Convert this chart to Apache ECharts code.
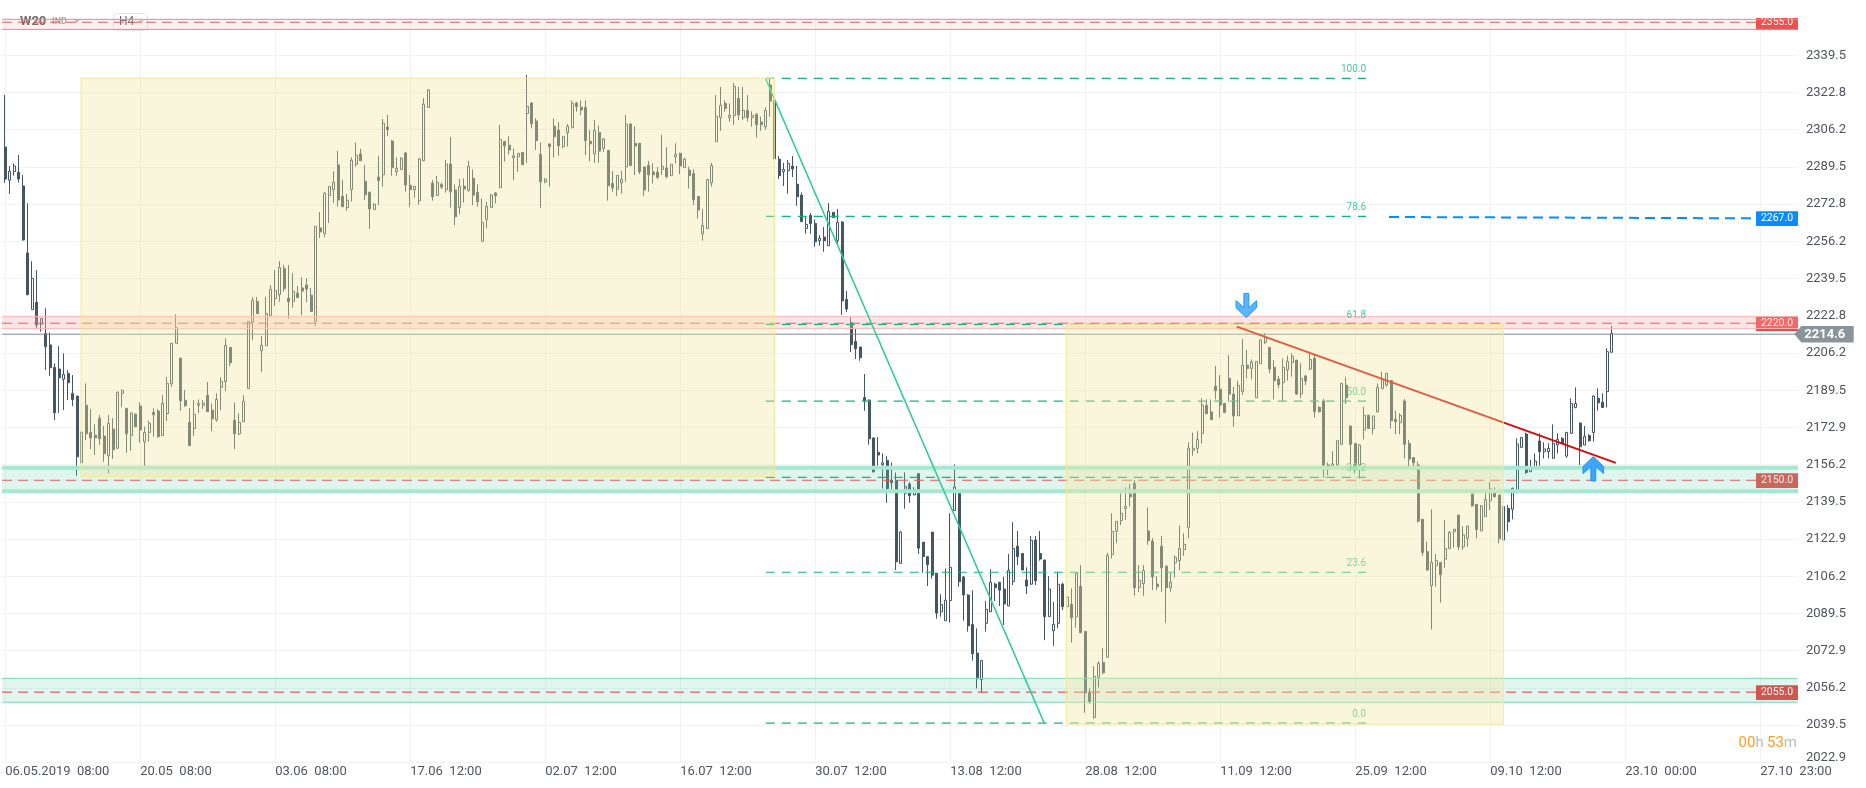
<!DOCTYPE html>
<html>
<head>
<meta charset="utf-8">
<title>W20 H4</title>
<script src="https://cdn.jsdelivr.net/npm/echarts@6/dist/echarts.min.js"></script>
<style>
  html, body { margin: 0; height: 100%; background: #fff; }
  #chart { width: 1866px; height: 788px; }
</style>
</head>
<body>
<div id="chart"></div>
<script>
// candle values, one row per 10 bars
const opens = [
  2298.4,2283.5,2287.4,2287.1,2281,2251,2225.6,2228.9,2219.1,2215,
  2209.8,2199.7,2199,2194.4,2197,2188.1,2186.9,2157,2182.8,2170.6,
  2169.4,2176.9,2169,2160.2,2172.1,2163.5,2188,2181.4,2169.3,2178.8,
  2182.4,2166.5,2170.6,2179.6,2180.2,2169.2,2179.1,2192.4,2210.5,2203.9,
  2185,2175.1,2172.4,2182.7,2182.7,2187.3,2180.6,2176.3,2190.8,2193.3,
  2208.7,2176.1,2170,2175.4,2190.3,2219.9,2229.3,2207.2,2209.4,2222.9,
  2230.6,2232.3,2244.1,2230.8,2229.3,2233,2235.3,2236.6,2232.1,2220.2,
  2262.2,2259.8,2276.7,2279.3,2290.4,2276.4,2271.3,2279.3,2290.7,2295.3,
  2283.1,2278.2,2270.4,2285,2286,2307.4,2301.1,2287.4,2288.3,2295.8,
  2281.3,2279.3,2274.4,2292.3,2316.1,2282.3,2276.7,2281.7,2279.3,2290.8,
  2279.2,2271.3,2280.9,2279,2284.4,2278.1,2256.2,2265.9,2271.4,2277.8,
  2280.2,2300.9,2299.2,2293.6,2294.1,2296,2313.4,2318.1,2310.1,2295.1,
  2282.8,2299.8,2307.7,2306,2298.6,2304.8,2307.1,2318.1,2316.2,2316.2,
  2301,2295.4,2305,2297.8,2296.9,2282.1,2279.5,2282.4,2289.6,2308.7,
  2300.1,2300.1,2289.5,2290.2,2287.2,2287.2,2288.4,2289,2285.6,2294.1,
  2295.6,2289.2,2288.1,2286.6,2276.3,2259.6,2261.9,2282.4,2300.8,2311.6,
  2318,2311.6,2312.5,2320.2,2311.6,2314.8,2311.6,2313.1,2309.6,2307.5,
  2326.2,2319.3,2293,2287.4,2287.8,2289.9,2281.7,2276.9,2261.9,2267.8,
  2264.2,2256.5,2258.1,2254.2,2269.2,2256.5,2264.8,2230.2,2219.8,2211.4,
  2208.9,2186.3,2185.1,2168.1,2161.7,2156.1,2158.1,2149.3,2149.2,2112,
  2143.3,2147.5,2142.6,2152.1,2121.5,2115,2126,2107.6,2090.3,2086.3,
  2095.3,2135.6,2143.3,2105.9,2097.8,2084.6,2071.8,2060,2085.1,2090.3,
  2102.7,2103.5,2100.5,2092.9,2103.8,2119.7,2116.4,2104.5,2102.7,2122.4,
  2116.4,2113.5,2088.1,2081.8,2085.1,2102.7,2092.6,2093.6,2088.1,2101.7,
  2081.5,2054.2,2043,2060.8,2067.6,2069.9,2116,2126.3,2131.2,2136.5,
  2143,2147.8,2101.2,2102.9,2126.5,2122,2102.7,2119.7,2110.8,2101.1,
  2112.3,2113.2,2118.1,2128.1,2162.6,2163.5,2170.2,2182.7,2179.8,2191.3,
  2190,2183.6,2194.8,2187.8,2178.1,2188.9,2200.7,2199.3,2186.2,2201.4,
  2211,2208.7,2199.8,2194.5,2192.9,2198.6,2201.9,2203,2187.8,2195.9,
  2199,2203.8,2181.8,2184.7,2156,2155.2,2156,2165.3,2191.8,2173.5,
  2165.7,2156,2171.7,2178.3,2172.4,2179.9,2190.2,2191.8,2193.9,2176.5,
  2175,2184.7,2165.7,2159.4,2156,2131.7,2117.2,2102,2110.9,2112.4,
  2113.9,2118.7,2126.2,2133.6,2119.4,2123.2,2143,2138.4,2126.5,2132.9,
  2140,2144.1,2142.6,2122.4,2136.6,2136.2,2144.8,2163.9,2169.9,2153,
  2155.3,2166.8,2162,2162,2159,2165,2168,2160,2170.2,2181.8,
  2174.8,2165,2169.2,2170.6,2185.9,2184.1,2188.9,2206.5
];
const closes = [
  2284.1,2287.6,2289.9,2284.1,2256.8,2232.3,2239.6,2218.7,2221.7,2209,
  2199.6,2179.4,2195.1,2196.6,2192.9,2185.3,2159.7,2170.8,2170,2168.2,
  2168.2,2167.8,2161.1,2174.7,2162.9,2188.6,2189.4,2170,2179.4,2173.2,
  2171.7,2170.6,2174.7,2178.5,2168.7,2183.6,2192.6,2210.5,2217.5,2184.8,
  2182.6,2164.7,2178.7,2183.6,2183.6,2179.9,2176.7,2185.4,2193.5,2209.6,
  2201.8,2170,2175.1,2184.5,2220.3,2229.8,2223.8,2209.6,2223.9,2234.7,
  2234.2,2244.5,2235,2229.2,2233.8,2231,2233.9,2234.8,2224.8,2262.9,
  2260.4,2277.7,2280.8,2282.6,2274.7,2271.7,2274.6,2292.5,2294.7,2292.3,
  2277,2270.7,2272.8,2283.4,2309,2306.2,2289.2,2288.9,2293.4,2281.4,
  2279.3,2280.8,2293.1,2317.6,2324,2276.2,2282.6,2280.5,2290.8,2278.4,
  2267.2,2280.8,2279.6,2289.8,2276.9,2273.9,2264.7,2271.8,2276.9,2276.6,
  2301.8,2298.9,2297.1,2294.5,2295.6,2290.5,2316.6,2308.9,2301.3,2282.9,
  2284,2298.6,2303,2299,2303.2,2307.8,2318,2316.5,2315,2301.3,
  2299.9,2305.9,2296.6,2302,2281.1,2280.2,2285.7,2283.9,2308.6,2290.1,
  2298.9,2287.4,2279.2,2286,2286,2284.8,2289.8,2285.1,2290.7,2295.1,
  2289.9,2293,2285.6,2274.8,2270.2,2263.3,2283.9,2290.2,2312.2,2317.1,
  2315.7,2312.6,2325.6,2312.8,2314.8,2311.6,2312.6,2308.4,2308.4,2314.8,
  2319,2293.2,2285.6,2288.4,2291.1,2288.6,2276.2,2265,2263.8,2264.1,
  2256,2257.5,2256.5,2269.6,2266.8,2264.7,2229.5,2225.9,2209.9,2208.1,
  2204.1,2184.7,2167.8,2153,2160.5,2157,2145.5,2148.1,2112.7,2126,
  2146.3,2142.3,2145,2118.8,2115,2111.4,2106.7,2089.7,2093.6,2095.5,
  2110.2,2146.2,2103.8,2097.8,2084,2071.5,2060.5,2068.5,2091.4,2103.5,
  2101.1,2100,2093.8,2108.8,2118.7,2115,2109,2101.8,2122.3,2104.2,
  2113.9,2088.1,2100.5,2084.7,2102.6,2092.6,2096.9,2087.6,2107.5,2080.9,
  2054,2050,2061.4,2067.2,2063,2115.6,2126.3,2130.8,2134.4,2137.5,
  2141.8,2101.1,2104.4,2108.8,2122.1,2105.9,2101.5,2110,2101.1,2103.5,
  2114.7,2118.7,2120.5,2163.5,2163.5,2167.5,2182.9,2179,2176.3,2189.3,
  2182.9,2179.5,2187.8,2178,2191.7,2200.7,2199.3,2202.2,2202.4,2212,
  2213.2,2199,2193.8,2192,2199.8,2202.4,2204.7,2187.8,2194.8,2193.6,
  2203.3,2179.9,2179.9,2156,2155.2,2156.5,2166.9,2192.6,2186.2,2165.3,
  2156,2165,2178.3,2172.4,2178,2190.8,2194.4,2197.1,2175.9,2175.4,
  2178.3,2165.3,2158.7,2157,2130.9,2116.9,2109,2112.4,2113.2,2106.9,
  2118.7,2125.9,2127.3,2119.4,2124.7,2128.7,2137.7,2127.2,2137.7,2140.6,
  2145.3,2141.8,2123,2137.4,2130.6,2145.6,2165.4,2168.4,2152.7,2154.5,
  2157.8,2162,2163.2,2163.5,2165.7,2167.5,2165.6,2170.6,2183.6,2183.6,
  2164.2,2168.8,2166.9,2186.9,2183.9,2181.8,2206.8,2215
];
const lows = [
  2282.4,2277.4,2285.6,2282.5,2256.5,2232,2225.6,2216.8,2215.7,2198.6,
  2196,2176.2,2179.4,2180.6,2185.1,2182.4,2151.2,2157,2167.2,2163.2,
  2160.5,2165,2157.5,2152.3,2158.7,2163.5,2182.1,2161.5,2162.4,2173,
  2166,2155.7,2166.5,2168.7,2168.2,2169.2,2175.7,2191,2210.5,2180.3,
  2182.1,2164.7,2169.1,2179.3,2181.2,2179.9,2171.2,2175.4,2180.6,2189.3,
  2200.3,2163.2,2169.4,2175.4,2190.3,2212,2223.8,2197.8,2209.4,2222.9,
  2227.3,2229.2,2233.6,2221.5,2226.5,2231,2223.2,2228.9,2224.5,2218.4,
  2257.7,2258,2264.4,2273.4,2271.7,2271.7,2269.9,2274,2289.6,2292.3,
  2274.7,2261.7,2270.4,2272.5,2280.7,2303.4,2285.6,2285.6,2288.3,2278.4,
  2271.7,2275.8,2272.5,2292.3,2316.1,2274.4,2276.7,2279.6,2278,2271.3,
  2263.5,2268.3,2273.5,2278.4,2272.4,2271.7,2256.2,2262.1,2271.4,2273.2,
  2280.2,2291.9,2295.1,2283.6,2287.4,2290.5,2291.4,2306.8,2297.1,2271.2,
  2282.2,2280.7,2293.7,2294.5,2297.8,2298.6,2306.8,2314.2,2312.7,2294.8,
  2291.9,2291.4,2291.4,2296.3,2274.4,2278.4,2276.5,2277.5,2282.9,2290.1,
  2285.9,2286.3,2276.5,2278.4,2282.2,2284.2,2285.9,2284.5,2285.6,2291.1,
  2286.3,2289.2,2279.8,2272.4,2266.5,2256.5,2261.9,2280.7,2300.8,2305.7,
  2314.2,2309.8,2308.3,2310.5,2310.5,2309.8,2307.5,2302.6,2305.7,2306.2,
  2312,2293.2,2284.1,2281,2277.5,2285,2272.1,2265,2259.6,2259.6,
  2253.8,2254.2,2251.5,2254.2,2266.8,2255.3,2223.2,2224.5,2206.6,2203.5,
  2202.7,2180.3,2165.1,2152.6,2155.7,2145.5,2139.1,2144.8,2109,2111.7,
  2136.5,2139.1,2142.6,2116.2,2107.8,2101.8,2105.1,2087.2,2088.1,2086.3,
  2085.4,2135.6,2101.5,2086.3,2081.4,2068.4,2056,2054,2081.4,2090.3,
  2095.1,2092.9,2084.4,2092.9,2102.3,2111.2,2109,2098.2,2102.3,2102.3,
  2113.2,2077.6,2088.1,2075,2082.9,2091.1,2092.6,2076.5,2083.2,2080.9,
  2045.1,2049.1,2042.4,2056.3,2062.3,2069.9,2114.1,2121.2,2129.1,2131.4,
  2137.4,2097.5,2099.1,2097.5,2120.3,2100,2100,2099.3,2085.4,2099.3,
  2105.6,2109,2115.4,2123.3,2160.2,2161.2,2165.6,2178.9,2176.3,2185.4,
  2177.2,2179.5,2184.4,2173.2,2178.1,2187.4,2194.8,2194.4,2186.2,2201.4,
  2210.2,2197.1,2185.4,2190.4,2184.7,2193.8,2195.6,2187.4,2186,2191.8,
  2198.6,2177.2,2179.5,2150.3,2151.5,2155.2,2156,2165.3,2183.3,2156,
  2152.3,2150,2167.5,2172.4,2169.8,2179.5,2190.2,2191.1,2172.4,2169.8,
  2169.8,2159,2155.3,2155.3,2130.2,2115.3,2108.6,2082.4,2101.5,2094.4,
  2110,2118.2,2119,2118,2118,2119.4,2137.4,2123.2,2126.5,2132.9,
  2135.9,2141.5,2120.9,2122.4,2126.2,2131.7,2143.3,2163.9,2152,2153,
  2155.3,2155.7,2159,2159,2159,2161.2,2165.6,2159.3,2170.2,2181.4,
  2156,2165,2166.5,2166.5,2180.4,2181.8,2181.8,2206.5
];
const highs = [
  2321.7,2289.9,2291.1,2294.9,2285.9,2273.2,2247.3,2243.3,2221.7,2226.2,
  2215.4,2201.5,2209.3,2206,2198.5,2196.3,2186.9,2170.8,2192.6,2181,
  2174.3,2178.4,2173.5,2178.4,2177,2188.9,2189.9,2181.4,2179.4,2179.1,
  2184,2173.2,2175.8,2181.4,2181.1,2187.3,2195.4,2210.5,2223.5,2203.9,
  2189.6,2181.5,2185.1,2185.4,2185.1,2193.2,2183.6,2188.1,2195.4,2212.7,
  2208.7,2184,2179.1,2187.3,2220.3,2231.2,2231.2,2213.8,2231.2,2236.6,
  2243.3,2247.4,2245.6,2245.6,2241.9,2236.2,2240,2239.6,2235.3,2262.9,
  2269.3,2278.2,2280.8,2287.6,2296.7,2283.7,2277.4,2293.8,2300.5,2297.6,
  2290.4,2278.2,2273.2,2294.4,2311,2312.8,2301.6,2293.8,2293.8,2296.1,
  2285.9,2280.8,2293.4,2320.3,2324.3,2283.7,2285.5,2282.5,2292.6,2302.9,
  2281.7,2284.1,2284.4,2292.2,2288.4,2281.7,2275.4,2273.9,2277.4,2278.3,
  2308.3,2300.9,2303.2,2297.8,2295.6,2296,2330.7,2318.6,2311.3,2300.5,
  2284.4,2300,2311.3,2309.6,2303.2,2308.7,2319.3,2318.7,2319.3,2319.3,
  2306,2310.5,2308,2302.5,2296.9,2287.7,2285.7,2287.7,2312.8,2309,
  2307.7,2300.1,2289.5,2292.2,2291.1,2289.5,2303.8,2298.4,2290.7,2300.1,
  2295.9,2293.6,2289.6,2288.4,2276.3,2270.7,2283.9,2291.3,2321.7,2325.3,
  2319.3,2318,2327.1,2325.3,2325.3,2321.7,2314.4,2313.5,2312,2316.2,
  2328.9,2319.3,2294.4,2291.3,2292.6,2294.4,2289.9,2278.1,2267.2,2268.8,
  2266,2259,2262.6,2273.3,2269.2,2270.7,2265.3,2233.9,2222.1,2216.9,
  2208.9,2196.8,2185.4,2168.5,2168.5,2161.2,2160,2157.2,2152.7,2126.5,
  2152.7,2148.5,2146.1,2152.3,2121.5,2115.3,2126,2107.6,2098.2,2109.7,
  2134.4,2156.3,2143.3,2106.3,2098.2,2100,2082.9,2068.5,2095.1,2109.4,
  2103.3,2103.5,2106,2116.2,2130.5,2126.5,2116.4,2110.2,2124.2,2124.2,
  2126.5,2113.5,2106.3,2094.7,2108.2,2103.3,2096.9,2100.8,2107.5,2111.2,
  2081.5,2056,2066,2068.2,2074.1,2116.8,2134.4,2130.8,2143.3,2146,
  2147.5,2149.3,2111.2,2111.2,2137,2123.3,2106.3,2124.2,2110.8,2107.8,
  2115.6,2129,2125.4,2166.2,2170.5,2171.2,2186,2185.4,2185.4,2200.4,
  2196.3,2183.6,2205.3,2191,2193.8,2212.5,2207.5,2203.3,2202.4,2212.3,
  2215,2208.7,2203,2195.9,2203.8,2205,2206,2203,2201.6,2196.3,
  2206.8,2205.7,2182.4,2185.6,2157.1,2162.3,2166.9,2192.6,2195.3,2173.5,
  2165.7,2165.3,2182.1,2178.3,2178,2192.6,2197.8,2197.1,2193.9,2180.4,
  2179.2,2185.6,2167.2,2159.4,2157.5,2131.9,2121.7,2136.2,2116.2,2112.4,
  2131.4,2126.5,2127.4,2133.6,2128.7,2128.7,2143,2138.4,2138.1,2143.3,
  2148.3,2145.9,2142.6,2137.4,2138.1,2145.9,2168,2168.4,2170.5,2158.3,
  2161.2,2170.2,2166.2,2165.7,2174.2,2170.2,2168.4,2170.9,2185.9,2190.8,
  2175.1,2173.5,2169.8,2187.4,2190.4,2188.1,2208.3,2218.3
];

// axis ticks
const priceTicks = [2022.9,2039.5,2056.2,2072.9,2089.5,2106.2,2122.9,2139.5,2156.2,2172.9,
  2189.5,2206.2,2222.8,2239.5,2256.2,2272.8,2289.5,2306.2,2322.8,2339.5];
const timeTicks = [0,30,60,90,120,150,180,210,240,270,300,330,360,390];
const timeLabels = ['06.05.2019  08:00','20.05  08:00','03.06  08:00','17.06  12:00','02.07  12:00',
  '16.07  12:00','30.07  12:00','13.08  12:00','28.08  12:00','11.09  12:00','25.09  12:00',
  '09.10  12:00','23.10  00:00','27.10  23:00'];

// horizontal levels, plotted value and the text on their tag
const levelValues = [2354.3,2219.5,2149.2,2054.3];
const levelLabels = ['2355.0','2220.0','2150.0','2055.0'];
const targetValue = [2267.1,2266.5];
const targetLabel = '2267.0';
const lastPrice = 2214.6;

// bands round the levels: [top, bottom]
const zoneTops = [2355.6,2222.6,2154.8,2060.5];
const zoneBottoms = [2351.1,2217.1,2144.3,2049.8];

// fibonacci retracement
const fibNames = ['100.0','78.6','61.8','50.0','38.2','23.6','0.0'];
const fibValues = [2329.2,2267.4,2219,2184.6,2150.5,2108,2040.4];

// yellow boxes: first and second
const boxBars = [[16.83,170.9],[235.8,332.9]];
const boxPrices = [[2329.3,2150.8],[2219,2040]];

// trend lines
const tealBars = [169,230.9];
const tealPrices = [2328.9,2040.4];
const redBars = [273.66,357.9];
const redPrices = [2218,2157];
const targetBars = [307.5,388.1];

const arrowBars = [275.8,352.9];
const arrowPrices = [2222,2159.8];

// axis range in bar numbers, one bar is 4.5px
const xMin = -0.722;
const xMax = 398.39;
const fibStart = 169;
const fibEnd = 302.4;
const tagBar = 389.06;

const darkColor = '#435661';
const chart = echarts.init(document.getElementById('chart'));

function plainLine(points, color, width, dash, z) {
  return {
    type: 'line',
    data: points,
    symbol: 'none',
    silent: true,
    z: z,
    lineStyle: { color: color, width: width, type: dash || 'solid', cap: 'butt' }
  };
}

// the tags at the right end of the levels
const tagSeries = {
  type: 'custom',
  z: 3,
  clip: true,
  silent: true,
  data: levelValues.concat(targetValue[1]).map((v, i) => [i, v]),
  renderItem(params, api) {
    const i = params.dataIndex;
    const p = api.coord([tagBar, api.value(1)]);
    const isTarget = i === levelValues.length;
    return {
      type: 'group',
      children: [
        { type: 'rect', shape: { x: p[0], y: p[1] - 7, width: 42, height: 14.7 },
          style: { fill: isTarget ? '#0a8cff' : '#e94343' } },
        { type: 'text', style: { x: p[0] + 21, y: p[1] + 0.2, text: isTarget ? targetLabel : levelLabels[i],
          fill: '#fff', font: '10.5px Roboto', textAlign: 'center', textVerticalAlign: 'middle' } }
      ]
    };
  }
};

// bands
const zoneFills = ['rgba(255,160,160,0.15)','rgba(251,177,177,0.35)','rgba(116,216,181,0.23)','rgba(68,197,152,0.155)'];
const zoneEdges = ['#f08585','#fcb6b6','#a4e8d2','#72dcb6'];
const zoneEdgeWidths = [1,1,4,1];
const zoneSeries = {
  type: 'custom',
  z: 4,
  silent: true,
  data: zoneTops.map((v, i) => [i, v]),
  renderItem(params, api) {
    const i = params.dataIndex;
    const a = api.coord([xMin, zoneTops[i]]);
    const b = api.coord([xMax, zoneBottoms[i]]);
    const edge = { stroke: zoneEdges[i], lineWidth: zoneEdgeWidths[i] };
    return {
      type: 'group',
      children: [
        { type: 'rect', shape: { x: a[0], y: a[1], width: b[0] - a[0], height: b[1] - a[1] },
          style: { fill: zoneFills[i] } },
        { type: 'line', shape: { x1: a[0], y1: a[1], x2: b[0], y2: a[1] }, style: edge },
        { type: 'line', shape: { x1: a[0], y1: b[1], x2: b[0], y2: b[1] }, style: edge }
      ]
    };
  }
};

// fib level names, above the right end of each dashed line
const fibTextSeries = {
  type: 'custom',
  z: 7,
  silent: true,
  data: fibValues.map((v, i) => [i, v]),
  renderItem(params, api) {
    const p = api.coord([fibEnd, api.value(1)]);
    return { type: 'text', style: { x: p[0], y: p[1] - 9, text: fibNames[params.dataIndex],
      fill: '#45c999', font: '10px Roboto', textAlign: 'right', textVerticalAlign: 'middle' } };
  }
};

const boxSeries = {
  type: 'custom',
  z: 9,
  silent: true,
  data: boxBars.map((v, i) => [i, boxPrices[i][0]]),
  renderItem(params, api) {
    const i = params.dataIndex;
    const a = api.coord([boxBars[i][0], boxPrices[i][0]]);
    const b = api.coord([boxBars[i][1], boxPrices[i][1]]);
    return { type: 'rect', shape: { x: a[0], y: a[1], width: b[0] - a[0], height: b[1] - a[1] },
      style: { fill: 'rgba(242,231,156,0.37)', stroke: '#f5e894', lineWidth: 1 } };
  }
};

// blue arrows, the first points down and the second up
const arrowSeries = {
  type: 'custom',
  z: 10,
  silent: true,
  data: arrowBars.map((v, i) => [v, arrowPrices[i]]),
  renderItem(params, api) {
    const p = api.coord([api.value(0), api.value(1)]);
    const dir = params.dataIndex === 0 ? -1 : 1;
    const shape = [[0,0],[10.3,10],[10.3,17],[2.4,10],[2.4,24.3],[-2.4,24.3],[-2.4,10],[-10.3,17],[-10.3,10]];
    return {
      type: 'polygon',
      shape: { points: shape.map(q => [p[0] + q[0], p[1] + dir * q[1]]) },
      style: { fill: dir < 0 ? '#5ab6ff' : '#3ea6ff', stroke: '#1f93f5', lineWidth: 1 }
    };
  }
};

// grey tag with the last price
const priceTagSeries = {
  type: 'custom',
  z: 11,
  silent: true,
  data: [[xMax, lastPrice]],
  renderItem(params, api) {
    const p = api.coord([api.value(0), api.value(1)]);
    const x0 = p[0] - 3.7;
    return {
      type: 'group',
      children: [
        { type: 'polygon', shape: { points: [[x0, p[1]],[x0 + 7, p[1] - 8.3],[x0 + 59.4, p[1] - 8.3],[x0 + 59.4, p[1] + 8.4],[x0 + 7, p[1] + 8.4]] },
          style: { fill: '#89959a' } },
        { type: 'text', style: { x: x0 + 30.5, y: p[1] + 0.3, text: lastPrice.toFixed(1), fill: '#fff',
          font: 'bold 13px Roboto', textAlign: 'center', textVerticalAlign: 'middle' } }
      ]
    };
  }
};

const lineSeries = [];
// dashed levels
levelValues.forEach(v => {
  lineSeries.push(plainLine([[xMin, v], [tagBar, v]], '#e65c5c', 1.2, [10, 6], 5));
});
// fib lines
fibValues.forEach(v => {
  lineSeries.push(plainLine([[fibStart, v], [fibEnd, v]], '#16b27e', 1.2, [9, 7], 6));
});
lineSeries.push(plainLine([[xMin, lastPrice], [xMax, lastPrice]], '#7f8c92', 1, null, 5));
lineSeries.push(plainLine([[tealBars[0], tealPrices[0]], [tealBars[1], tealPrices[1]]], '#2ccb97', 1.6, null, 6));
lineSeries.push(plainLine([[redBars[0], redPrices[0]], [redBars[1], redPrices[1]]], '#d60a0a', 2, null, 6));
lineSeries.push(plainLine([[targetBars[0], targetValue[0]], [targetBars[1], targetValue[1]]], '#0a8cff', 2, [10, 6], 6));

const option = {
  animation: false,
  backgroundColor: '#fff',
  textStyle: { fontFamily: 'Roboto' },
  grid: { left: 2, right: 68, top: 18, bottom: 25.7 },
  xAxis: {
    type: 'value',
    min: xMin,
    max: xMax,
    axisLine: { show: false },
    axisTick: { show: false, customValues: timeTicks },
    splitLine: { show: true, lineStyle: { color: '#f2f2f3', width: 1 } },
    axisLabel: {
      customValues: timeTicks,
      formatter: v => timeLabels[timeTicks.indexOf(v)],
      align: 'left',
      margin: 3,
      color: '#50545b',
      fontSize: 13,
      fontFamily: 'Roboto'
    }
  },
  yAxis: {
    type: 'value',
    position: 'right',
    min: 2022.9,
    max: 2356.2,
    axisLine: { show: false },
    axisTick: { show: false, customValues: priceTicks },
    splitLine: { show: true, lineStyle: { color: '#f2f2f3', width: 1 } },
    axisLabel: {
      customValues: priceTicks,
      formatter: v => (v === priceTicks[0] ? '{low|' + v.toFixed(1) + '}' : v.toFixed(1)),
      margin: 8,
      color: '#50545b',
      fontSize: 13,
      fontFamily: 'Roboto',
      rich: { low: { padding: [0, 0, 10, 0], color: '#50545b', fontSize: 13, fontFamily: 'Roboto' } }
    }
  },
  series: [
    {
      type: 'candlestick',
      z: 2,
      silent: true,
      barWidth: 2.5,
      encode: { x: 0, y: [1, 2, 3, 4] },
      itemStyle: {
        color: '#fff',
        color0: darkColor,
        borderColor: darkColor,
        borderColor0: darkColor,
        borderWidth: 1
      },
      data: opens.map((o, i) => [i, o, closes[i], lows[i], highs[i]])
    },
    tagSeries,
    zoneSeries,
    ...lineSeries,
    fibTextSeries,
    boxSeries,
    arrowSeries,
    priceTagSeries
  ],
  graphic: [
    { type: 'text', left: 20, top: 15, z: 1, style: { text: 'W20', fill: '#666', font: 'bold 13px Roboto' } },
    { type: 'text', left: 52, top: 17, z: 1, style: { text: 'IND', fill: '#aaa', font: 'bold 9px Roboto' } },
    { type: 'polygon', z: 1, shape: { points: [[74, 19.5], [80, 19.5], [77, 23]] }, style: { fill: '#bbb' } },
    { type: 'rect', z: 1, shape: { x: 113.5, y: 13.5, width: 34, height: 17, r: 3 }, style: { fill: 'none', stroke: '#e4e4e4', lineWidth: 1 } },
    { type: 'text', left: 119, top: 16, z: 1, style: { text: 'H4', fill: '#666', font: '12px Roboto' } },
    { type: 'polygon', z: 1, shape: { points: [[138.5, 20.5], [144, 20.5], [141.2, 24]] }, style: { fill: '#bbb' } },
    {
      type: 'text', right: 69, top: 736, z: 12,
      style: {
        text: '{o|00}{g|h} {o|53}{g|m}',
        rich: {
          o: { fill: '#ff9b21', font: '15px Roboto' },
          g: { fill: '#bdbdbd', font: '15px Roboto' }
        }
      }
    }
  ]
};

chart.setOption(option);
</script>
</body>
</html>
